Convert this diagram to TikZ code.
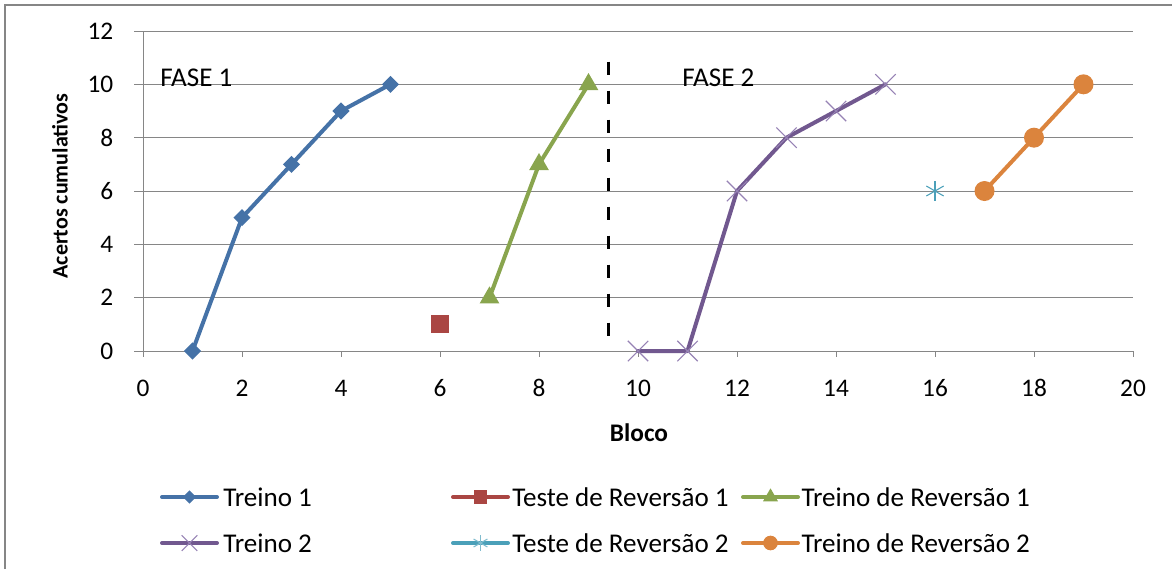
\documentclass[tikz,border=0pt]{standalone}
\usepackage{fontspec}
\setmainfont{Carlito}
\usetikzlibrary{shapes.geometric,shapes.misc,calc}

\definecolor{serblue}{RGB}{69,114,167}
\definecolor{serred}{RGB}{170,70,67}
\definecolor{sergreen}{RGB}{137,165,78}
\definecolor{serpurple}{RGB}{113,88,143}
\definecolor{serpurplelt}{RGB}{150,130,180}
\definecolor{serteal}{RGB}{75,160,185}
\definecolor{serorange}{RGB}{219,132,61}
\definecolor{gridgray}{RGB}{134,134,134}

\begin{document}
\begin{tikzpicture}[x=0.75pt,y=-0.75pt,font=\fontsize{19}{22}\selectfont]
  \useasboundingbox (0,0) rectangle (1172,569);

  %stili
  \tikzset{
    frame/.style={draw=gridgray, line width=1.5pt},
    gridline/.style={draw=gridgray, line width=0.75pt},
    axisline/.style={draw=gridgray, line width=0.75pt},
    serie/.style={line width=3pt, line join=round, line cap=round},
    diam/.style={diamond, fill=serblue, inner sep=0pt, minimum width=#1, minimum height=#1},
    diam/.default=13pt,
    sqr/.style={rectangle, fill=serred, inner sep=0pt, minimum size=#1},
    sqr/.default=13.5pt,
    tri/.style={regular polygon, regular polygon sides=3, fill=sergreen, inner sep=0pt, minimum size=#1},
    tri/.default=17pt,
    xmark/.style={cross out, draw=serpurplelt, line width=0.8pt, inner sep=0pt, minimum size=#1},
    xmark/.default=14.5pt,
    dot/.style={circle, fill=serorange, inner sep=0pt, minimum size=#1},
    dot/.default=15pt,
    bigtext/.style={font=\fontsize{20.3}{24}\selectfont},
    legtext/.style={bigtext, anchor=west, inner sep=0pt}
  }

  % cornice
  \coordinate (f1) at (5,569);
  \coordinate (f2) at (5,5);
  \coordinate (f3) at (1172,5);
  \draw[frame] (f1) -- (f2) -- (f3);

  \begin{scope}[shift={(143,351)},x=37.125pt,y=20pt]
    % griglia
    \foreach \v in {2,4,...,12}
      \draw[gridline] (0,\v) -- (20,\v);

    % assi
    \draw[axisline] (0,0) -- (20,0);
    \draw[axisline] (0,0) -- (0,12);
    \foreach \v in {0,2,...,12} {
      \draw[axisline] (0,\v) -- ++(-6.75pt,0pt);
      \node[anchor=east] (ly\v) at ([xshift=-18.75pt]0,\v) {\v};
    }
    \foreach \v in {0,2,...,20} {
      \draw[axisline] (\v,0) -- ++(0pt,-4.5pt);
      \node (lx\v) at ([yshift=-27.75pt]\v,0) {\v};
    }

    % divisione fasi
    \coordinate (d1) at (9.41,10.85);
    \coordinate (d2) at (9.41,0.4);
    \draw[black, line width=2pt, dash pattern=on 10pt off 11.75pt] (d1) -- (d2);

    % def Treino 1
    \coordinate (a1) at (1,0);
    \coordinate (a2) at (2,5);
    \coordinate (a3) at (3,7);
    \coordinate (a4) at (4,9);
    \coordinate (a5) at (5,10);
    % def Teste de Reversao 1
    \coordinate (b1) at (6,1);
    % def Treino de Reversao 1
    \coordinate (c1) at (7,2);
    \coordinate (c2) at (8,7);
    \coordinate (c3) at (9,10);
    % def Treino 2
    \coordinate (e1) at (10,0);
    \coordinate (e2) at (11,0);
    \coordinate (e3) at (12,6);
    \coordinate (e4) at (13,8);
    \coordinate (e5) at (14,9);
    \coordinate (e6) at (15,10);
    % def Teste de Reversao 2
    \coordinate (g1) at (16,6);
    % def Treino de Reversao 2
    \coordinate (h1) at (17,6);
    \coordinate (h2) at (18,8);
    \coordinate (h3) at (19,10);

    %linee
    \draw[serie, serblue] (a1) -- (a2) -- (a3) -- (a4) -- (a5);
    \draw[serie, sergreen] (c1) -- (c2) -- (c3);
    \draw[serie, serpurple] (e1) -- (e2) -- (e3) -- (e4) -- (e5) -- (e6);
    \draw[serie, serorange] (h1) -- (h2) -- (h3);

    % marcatori
    \foreach \p in {a1,a2,a3,a4,a5}
      \node[diam] (m\p) at (\p) {};
    \node[sqr] (mb1) at (b1) {};
    \foreach \p in {c1,c2,c3}
      \node[tri] (m\p) at (\p) {};
    \foreach \p in {e1,e2,e3,e4,e5,e6}
      \node[xmark] (m\p) at (\p) {};
    \foreach \a in {90,30,-30}
      \draw[serteal, line width=0.8pt] (g1) -- ++(\a:7.5pt) (g1) -- ++(\a+180:7.5pt);
    \foreach \p in {h1,h2,h3}
      \node[dot] (m\p) at (\p) {};
  \end{scope}

  %etichette
  \node[bigtext, anchor=base west, inner sep=0pt] (fase1) at (160,86) {FASE 1};
  \node[bigtext, anchor=base west, inner sep=0pt] (fase2) at (682,86) {FASE 2};
  \node[font=\fontsize{19}{22}\selectfont\bfseries] (xlab) at (639,433) {Bloco};
  \node[font=\fontsize{16.5}{20}\selectfont\bfseries, rotate=90] (ylab) at (60,186) {Acertos cumulativos};

  % legenda
  \coordinate (l1a) at (162,497); \coordinate (l1b) at (217,497);
  \coordinate (l2a) at (453,497); \coordinate (l2b) at (508,497);
  \coordinate (l3a) at (743,497); \coordinate (l3b) at (798,497);
  \coordinate (l4a) at (162,543); \coordinate (l4b) at (217,543);
  \coordinate (l5a) at (453,543); \coordinate (l5b) at (508,543);
  \coordinate (l6a) at (743,543); \coordinate (l6b) at (798,543);

  \draw[serie, serblue] (l1a) -- (l1b);
  \draw[serie, serred] (l2a) -- (l2b);
  \draw[serie, sergreen] (l3a) -- (l3b);
  \draw[serie, serpurple] (l4a) -- (l4b);
  \draw[serie, serteal] (l5a) -- (l5b);
  \draw[serie, serorange] (l6a) -- (l6b);

  \node[diam=10pt] (k1) at ($(l1a)!0.5!(l1b)$) {};
  \node[sqr=10pt] (k2) at ($(l2a)!0.5!(l2b)$) {};
  \node[tri=13pt] (k3) at ($(l3a)!0.5!(l3b)$) {};
  \node[xmark=11pt] (k4) at ($(l4a)!0.5!(l4b)$) {};
  \coordinate (k5) at ($(l5a)!0.5!(l5b)$);
  \foreach \a in {90,30,-30}
    \draw[serteal!70, line width=0.8pt] (k5) -- ++(\a:6pt) (k5) -- ++(\a+180:6pt);
  \node[dot=11pt] (k6) at ($(l6a)!0.5!(l6b)$) {};

  \node[legtext] (t1) at ([xshift=4.5pt]l1b) {Treino 1};
  \node[legtext] (t2) at ([xshift=3pt]l2b) {Teste de Reversão 1};
  \node[legtext] (t3) at ([xshift=2.5pt]l3b) {Treino de Reversão 1};
  \node[legtext] (t4) at ([xshift=4.5pt]l4b) {Treino 2};
  \node[legtext] (t5) at ([xshift=3pt]l5b) {Teste de Reversão 2};
  \node[legtext] (t6) at ([xshift=2.5pt]l6b) {Treino de Reversão 2};
\end{tikzpicture}
\end{document}
